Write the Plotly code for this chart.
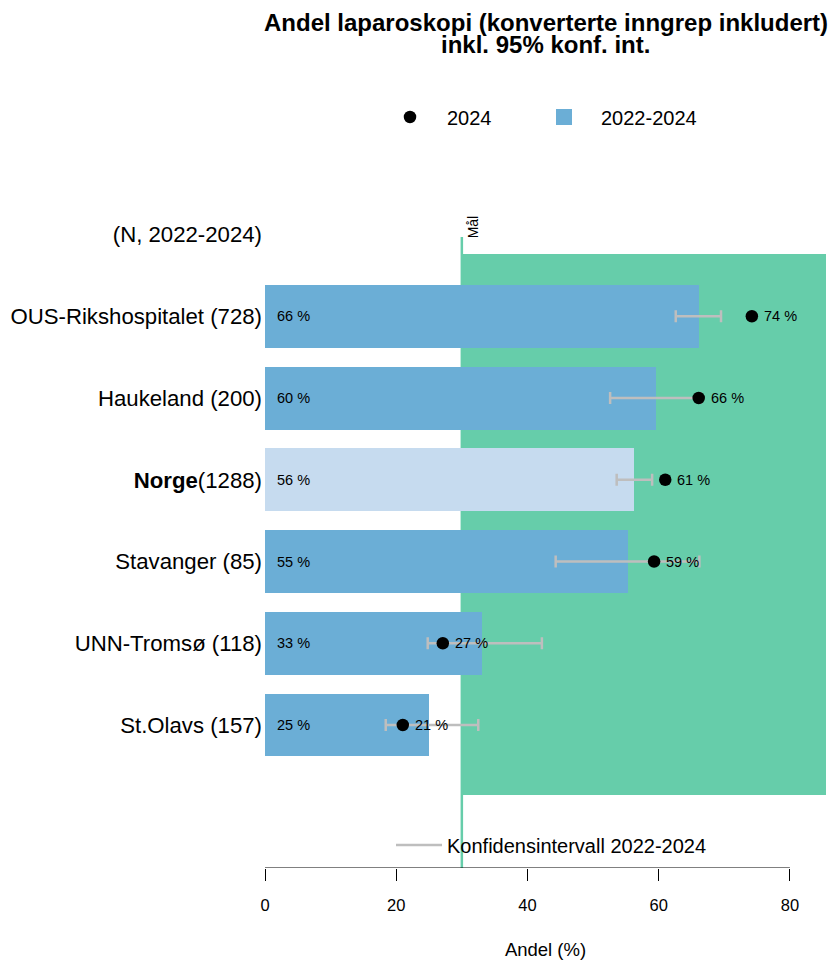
import plotly.graph_objects as go

# ---- data ----
units = ["OUS-Rikshospitalet", "Haukeland", "Norge", "Stavanger", "UNN-Tromsø", "St.Olavs"]
n_total = [728, 200, 1288, 85, 118, 157]
share_2022_2024 = [66.1, 59.6, 56.3, 55.3, 33.0, 25.0]
share_2024 = [74.2, 66.1, 61.0, 59.3, 27.1, 21.0]
ci_low = [62.6, 52.6, 53.6, 44.3, 24.8, 18.4]
ci_high = [69.5, 66.4, 59.0, 66.2, 42.2, 32.5]
target = 30
header_label = "(N, 2022-2024)"
x_ticks = [0, 20, 40, 60, 80]

BLUE = "#6baed6"
LIGHT = "#c6dbef"
GREEN = "#66cdaa"
GREY = "#bebebe"
FONT = "Liberation Sans, Arial, Helvetica, sans-serif"

# positions (top to bottom)
ypos = list(range(len(units), 0, -1))  # 6..1
header_y = len(units) + 1

ticktext = []
for u, n in zip(units, n_total):
    if u == "Norge":
        ticktext.append(f"<b>{u}</b>({n})")
    else:
        ticktext.append(f"{u} ({n})")
tickvals = ypos + [header_y]
ticktext = ticktext + [header_label]

bar_colors = [LIGHT if u == "Norge" else BLUE for u in units]

fig = go.Figure()

fig.add_trace(go.Bar(
    x=share_2022_2024, y=ypos, orientation="h", width=0.77, base=0,
    marker=dict(color=bar_colors, line=dict(width=0)),
    showlegend=False, hoverinfo="skip",
))

# CI error bars around the 2022-2024 value
fig.add_trace(go.Scatter(
    x=share_2022_2024, y=ypos, mode="markers",
    marker=dict(size=1, color="rgba(0,0,0,0)"),
    error_x=dict(type="data", symmetric=False,
                 array=[h - s for h, s in zip(ci_high, share_2022_2024)],
                 arrayminus=[s - l for s, l in zip(share_2022_2024, ci_low)],
                 color=GREY, thickness=2.5, width=6),
    showlegend=False, hoverinfo="skip",
))

# legend entry for CI (bottom legend)
fig.add_trace(go.Scatter(
    x=[None], y=[None], mode="lines", line=dict(color=GREY, width=2.5),
    name="Konfidensintervall 2022-2024", legend="legend2",
))

# 2024 points
fig.add_trace(go.Scatter(
    x=share_2024, y=ypos, mode="markers",
    marker=dict(size=12.5, color="black", symbol="circle"),
    name="2024", legend="legend",
))

# legend entry for bars
fig.add_trace(go.Scatter(
    x=[None], y=[None], mode="markers",
    marker=dict(size=17, color=BLUE, symbol="square"),
    name="2022-2024", legend="legend3",
))

# target area and line
fig.add_shape(type="rect", xref="x", yref="y", x0=target, x1=85.5, y0=0.144, y1=6.761,
              fillcolor=GREEN, line=dict(width=0), layer="below")
fig.add_shape(type="line", xref="x", yref="y", x0=target, x1=target, y0=-0.749, y1=6.969,
              line=dict(color=GREEN, width=2.5), layer="below")
# axis line from 0 to 80
fig.add_shape(type="line", xref="x", yref="y", x0=0, x1=80, y0=-0.749, y1=-0.749,
              line=dict(color="black", width=1), layer="above")

annotations = []
annotations.append(dict(x=target, y=7.098, xref="x", yref="y", text="Mål", showarrow=False,
                        textangle=-90, xshift=11, font=dict(size=14, color="black", family=FONT)))
for yv, s in zip(ypos, share_2022_2024):
    annotations.append(dict(x=0, y=yv, xref="x", yref="y", text=f"{round(s)} %", showarrow=False,
                            xanchor="left", xshift=10, font=dict(size=14.5, color="black", family=FONT)))
for yv, s in zip(ypos, share_2024):
    annotations.append(dict(x=s, y=yv, xref="x", yref="y", text=f"{round(s)} %", showarrow=False,
                            xanchor="left", xshift=10, font=dict(size=14.5, color="black", family=FONT)))
annotations.append(dict(x=0.5, y=1.301, xref="paper", yref="paper",
                        text="<b>Andel laparoskopi (konverterte inngrep inkludert)</b>",
                        showarrow=False, font=dict(size=24, color="black", family=FONT)))
annotations.append(dict(x=0.5, y=1.267, xref="paper", yref="paper",
                        text="<b>inkl. 95% konf. int.</b>",
                        showarrow=False, font=dict(size=24, color="black", family=FONT)))

legend_common = dict(orientation="h", xanchor="left", yanchor="middle",
                     font=dict(size=20, family=FONT, color="black"),
                     bgcolor="rgba(0,0,0,0)", itemclick=False, itemdoubleclick=False)

fig.update_layout(
    width=828, height=963,
    margin=dict(l=265, r=2, t=206, b=95, pad=0, autoexpand=False),
    paper_bgcolor="white", plot_bgcolor="white",
    font=dict(family=FONT, color="black"),
    bargap=0,
    hovermode=False,
    annotations=annotations,
    xaxis=dict(range=[0, 85.5], tickvals=x_ticks, ticktext=[str(v) for v in x_ticks],
               showgrid=False, zeroline=False, showline=False, automargin=False,
               ticks="outside", ticklen=12, tickcolor="black", tickwidth=1,
               tickfont=dict(size=16.5, family=FONT, color="black"), ticklabelstandoff=10,
               title=dict(text="Andel (%)", font=dict(size=18.5, family=FONT, color="black"), standoff=30),
               fixedrange=True),
    yaxis=dict(range=[-0.749, 7.349], tickvals=tickvals, ticktext=ticktext,
               showgrid=False, zeroline=False, showline=False, ticks="", automargin=False,
               tickfont=dict(size=22.2, family=FONT, color="black"), ticklabelstandoff=2,
               fixedrange=True),
    legend=dict(x=(373 - 265) / 561, y=(868 - 117) / 662, itemwidth=64, **legend_common),
    legend3=dict(x=(527 - 265) / 561, y=(868 - 117) / 662, itemwidth=64, **legend_common),
    legend2=dict(x=(391 - 265) / 561, y=(868 - 845) / 662, itemwidth=46, **legend_common),
    showlegend=True,
)

fig.write_html(
    "out.html",
    config={"displayModeBar": False, "staticPlot": False},
    post_script="document.body.style.margin='0';document.body.style.overflow='hidden';",
)
